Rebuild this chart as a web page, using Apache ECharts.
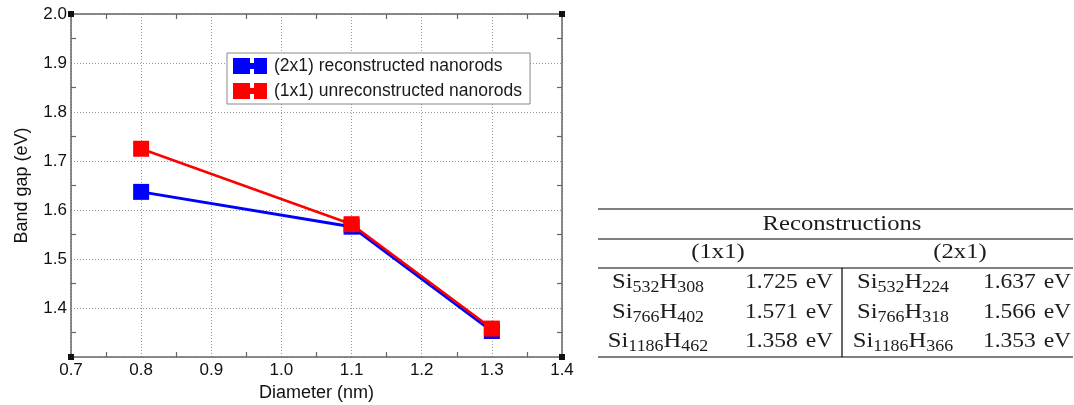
<!DOCTYPE html>
<html>
<head>
<meta charset="utf-8">
<script src="https://cdn.jsdelivr.net/npm/echarts@6/dist/echarts.min.js"></script>
<style>
  html, body { margin: 0; background: #fff; }
  #chart { width: 1074px; height: 405px; }
</style>
</head>
<body>
<div id="chart"></div>
<script>
const diameters = [0.8, 1.1, 1.3];
const gap2x1 = [1.637, 1.566, 1.353];
const gap1x1 = [1.725, 1.571, 1.358];
const seriesNames = ['(2x1) reconstructed nanorods', '(1x1) unreconstructed nanorods'];
const formulas1x1 = [['532', '308'], ['766', '402'], ['1186', '462']];
const formulas2x1 = [['532', '224'], ['766', '318'], ['1186', '366']];
const tableTitle = 'Reconstructions';
const tableGroups = ['(1x1)', '(2x1)'];

const SANS = 'Liberation Sans, Arial, sans-serif';
const SERIF = 'Liberation Serif, Times New Roman, serif';

// plot box
const G = { left: 71, top: 14, right: 562, bottom: 357 };

const chart = echarts.init(document.getElementById('chart'));

const axisBase = {
  type: 'value',
  axisLine: { show: true, lineStyle: { color: '#666', width: 1.5 } },
  axisTick: { show: false, inside: true },
  minorTick: { show: true, splitNumber: 2, length: 5, lineStyle: { color: '#666', width: 1.2 } },
  splitLine: { show: false }
};
const gridLine = { show: true, lineStyle: { color: '#9a9a9a', width: 1, type: [1, 2] } };

// table drawing (graphic elements)
const SX = 1.12;
function txt(x, y, rich, text) {
  return {
    type: 'text', x: x, y: y, scaleX: SX, silent: true,
    style: {
      text: text, x: 0, y: 0, rich: rich, fill: '#1c1c1c',
      font: '22px ' + SERIF,
      align: 'center', verticalAlign: 'middle',
      textAlign: 'center', textVerticalAlign: 'middle'
    }
  };
}
const formulaRich = {
  m: { fontSize: 22, fontFamily: SERIF, lineHeight: 28, fill: '#1c1c1c' },
  s: { fontSize: 16, fontFamily: SERIF, lineHeight: 18, verticalAlign: 'bottom', fill: '#1c1c1c' }
};
const valueRich = {
  n: { fontSize: 21, fontFamily: SERIF, fill: '#1c1c1c' },
  u: { fontSize: 21, fontFamily: SERIF, fill: '#1c1c1c', padding: [0, 0, 0, 7] }
};
function hline(y, x1, x2) {
  return { type: 'line', silent: true, shape: { x1: x1, y1: y, x2: x2, y2: y }, style: { stroke: '#000', lineWidth: 1.2 } };
}

const T = { left: 598, right: 1073, mid: 842 };
const rowY = [282, 312, 341];
const graphics = [
  hline(209, T.left, T.right),
  hline(239, T.left, T.right),
  hline(268, T.left, T.right),
  hline(357, T.left, T.right),
  { type: 'line', silent: true, shape: { x1: T.mid, y1: 268, x2: T.mid, y2: 357 }, style: { stroke: '#000', lineWidth: 1.2 } },
  txt(842, 224, null, tableTitle),
  txt(718, 252, null, tableGroups[0]),
  txt(960, 252, null, tableGroups[1])
];
rowY.forEach(function (y, i) {
  const a = formulas1x1[i], b = formulas2x1[i];
  graphics.push(txt(658, y, formulaRich, '{m|Si}{s|' + a[0] + '}{m|H}{s|' + a[1] + '}'));
  graphics.push(txt(789, y, valueRich, '{n|' + gap1x1[i].toFixed(3) + '}{u|eV}'));
  graphics.push(txt(903, y, formulaRich, '{m|Si}{s|' + b[0] + '}{m|H}{s|' + b[1] + '}'));
  graphics.push(txt(1027, y, valueRich, '{n|' + gap2x1[i].toFixed(3) + '}{u|eV}'));
});
// little corner blocks of the plot frame
[[G.left, G.top], [G.right, G.top], [G.left, G.bottom], [G.right, G.bottom]].forEach(function (p) {
  graphics.push({ type: 'rect', silent: true, z: 100, shape: { x: p[0] - 3, y: p[1] - 3, width: 6, height: 6 }, style: { fill: '#111' } });
});

const option = {
  backgroundColor: '#fff',
  animation: false,
  grid: {
    left: G.left, top: G.top, width: G.right - G.left, height: G.bottom - G.top,
    containLabel: false, outerBoundsMode: 'none'
  },
  legend: {
    orient: 'vertical', left: 227, top: 53,
    padding: [4, 8, 4, 6], itemGap: 7, itemWidth: 34, itemHeight: 16,
    icon: 'path://M0,0H17V16H0Z M17,5H21V11H17Z M21,0H34V16H21Z',
    backgroundColor: '#fff', borderColor: '#888', borderWidth: 1, borderRadius: 0,
    textStyle: { fontSize: 17.5, color: '#1a1a1a', fontFamily: SANS, padding: [0, 0, 0, 2] },
    data: seriesNames
  },
  xAxis: [
    Object.assign({}, axisBase, {
      position: 'bottom', min: 0.7, max: 1.4, interval: 0.1,
      splitLine: gridLine,
      axisLabel: { margin: 5, fontSize: 17, color: '#111', fontFamily: SANS, formatter: v => v.toFixed(1) },
      name: 'Diameter (nm)', nameLocation: 'middle', nameGap: 23,
      nameTextStyle: { fontSize: 18, color: '#111', fontFamily: SANS }
    }),
    Object.assign({}, axisBase, {
      position: 'top', min: 0.7, max: 1.4, interval: 0.1,
      axisLabel: { show: false }
    })
  ],
  yAxis: [
    Object.assign({}, axisBase, {
      position: 'left', min: 1.3, max: 2.0, interval: 0.1,
      splitLine: gridLine,
      axisLabel: { margin: 4, fontSize: 17, color: '#111', fontFamily: SANS, formatter: v => (v < 1.35 ? '' : v.toFixed(1)) },
      name: 'Band gap (eV)', nameLocation: 'middle', nameGap: 40,
      nameTextStyle: { fontSize: 18, color: '#111', fontFamily: SANS }
    }),
    Object.assign({}, axisBase, {
      position: 'right', min: 1.3, max: 2.0, interval: 0.1,
      axisLabel: { show: false }
    })
  ],
  series: [
    {
      name: seriesNames[0], type: 'line',
      data: diameters.map((d, i) => [d, gap2x1[i]]),
      symbol: 'rect', symbolSize: 16,
      itemStyle: { color: '#0000ff' },
      lineStyle: { color: '#0000ff', width: 3 }
    },
    {
      name: seriesNames[1], type: 'line',
      data: diameters.map((d, i) => [d, gap1x1[i]]),
      symbol: 'rect', symbolSize: 16,
      itemStyle: { color: '#ff0000' },
      lineStyle: { color: '#ff0000', width: 2.5 }
    }
  ],
  graphic: graphics
};

chart.setOption(option);
</script>
</body>
</html>
